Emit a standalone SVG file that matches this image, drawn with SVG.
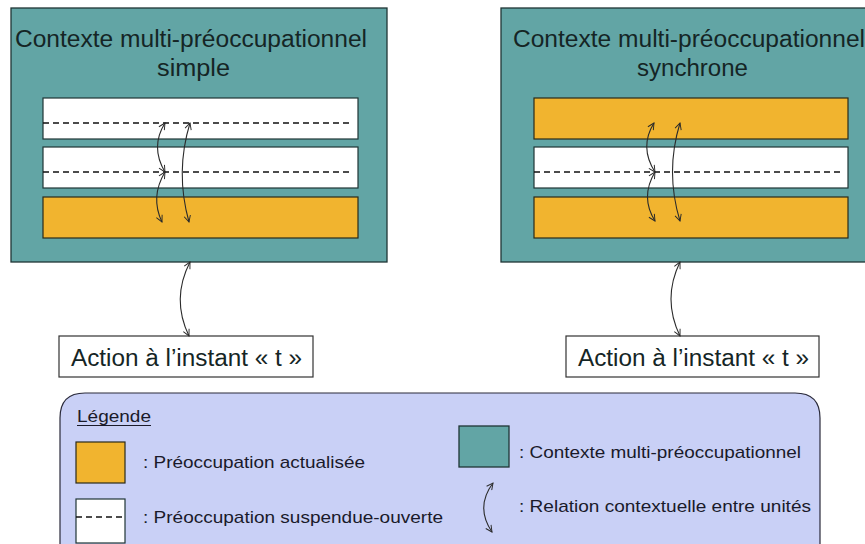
<svg xmlns="http://www.w3.org/2000/svg" width="865" height="544" viewBox="0 0 865 544">
<defs>
<marker id="ah" viewBox="0 0 10 10" refX="9" refY="5" markerWidth="8" markerHeight="8" markerUnits="userSpaceOnUse" orient="auto-start-reverse">
<path d="M1,1 L9,5 L1,9" fill="none" stroke="#2b2b2b" stroke-width="1.2"/>
</marker>
<style>
.ctx{fill:#62a5a5;stroke:#1f3535;stroke-width:1.3}
.act{fill:#f1b42f;stroke:#2a2a1a;stroke-width:1.2}
.sus{fill:#ffffff;stroke:#1f3535;stroke-width:1.2}
.dash{stroke:#111111;stroke-width:1.4;stroke-dasharray:6 4;fill:none}
.rel{fill:none;stroke:#2b2b2b;stroke-width:1.1;marker-start:url(#ah);marker-end:url(#ah)}
.title{font-family:"Liberation Sans",Arial,sans-serif;font-size:23px;fill:#152525}
.lg{font-family:"Liberation Sans",Arial,sans-serif;font-size:17px;fill:#1a1a2a}
.box{fill:#ffffff;stroke:#333333;stroke-width:1.2}
</style>
</defs>
<rect width="865" height="544" fill="#ffffff"/>

<g id="ctx-simple">
<rect class="ctx" x="11" y="8" width="376" height="254"/>
<text class="title" x="15" y="47" textLength="352" lengthAdjust="spacingAndGlyphs">Contexte multi-préoccupationnel</text>
<text class="title" x="157" y="76" textLength="73" lengthAdjust="spacingAndGlyphs">simple</text>
</g>
<g id="simple-u1"><rect class="sus" x="43" y="98" width="315" height="41"/><line class="dash" x1="43" y1="123" x2="353" y2="123"/></g>
<g id="simple-u2"><rect class="sus" x="43" y="147" width="315" height="41"/><line class="dash" x1="43" y1="172" x2="353" y2="172"/></g>
<g id="simple-u3"><rect class="act" x="43" y="197" width="315" height="41"/></g>

<g id="ctx-synchrone">
<rect class="ctx" x="501" y="8" width="370" height="254"/>
<text class="title" x="513" y="47" textLength="352" lengthAdjust="spacingAndGlyphs">Contexte multi-préoccupationnel</text>
<text class="title" x="637" y="76" textLength="111" lengthAdjust="spacingAndGlyphs">synchrone</text>
</g>
<g id="sync-u1"><rect class="act" x="534" y="98" width="314" height="41"/></g>
<g id="sync-u2"><rect class="sus" x="534" y="147" width="314" height="41"/><line class="dash" x1="534" y1="172" x2="843" y2="172"/></g>
<g id="sync-u3"><rect class="act" x="534" y="197" width="314" height="41"/></g>

<g id="action-left">
<rect class="box" x="59" y="336" width="254" height="41"/>
<text class="title" x="71" y="366" textLength="231" lengthAdjust="spacingAndGlyphs">Action à l’instant « t »</text>
</g>
<g id="action-right">
<rect class="box" x="566" y="336" width="253" height="41"/>
<text class="title" x="578" y="366" textLength="231" lengthAdjust="spacingAndGlyphs">Action à l’instant « t »</text>
</g>

<g id="legend">
<path d="M60,544 L60,418 Q60,393 85,393 L795,393 Q820,393 820,418 L820,544" fill="#c9d0f6" stroke="#2a2a3a" stroke-width="1.2"/>
<text class="lg" x="77" y="422" textLength="74" lengthAdjust="spacingAndGlyphs">Légende</text>
<line x1="77" y1="425.5" x2="151" y2="425.5" stroke="#1a1a2a" stroke-width="1"/>
<rect class="act" x="76" y="442" width="49" height="41"/>
<text class="lg" x="143" y="468" textLength="222" lengthAdjust="spacingAndGlyphs">: Préoccupation actualisée</text>
<rect class="sus" x="76" y="499" width="49" height="44"/>
<line class="dash" x1="76" y1="517" x2="125" y2="517" stroke-dasharray="5 3"/>
<text class="lg" x="143" y="523" textLength="300" lengthAdjust="spacingAndGlyphs">: Préoccupation suspendue-ouverte</text>
<rect class="ctx" x="459" y="426" width="50" height="41"/>
<text class="lg" x="519" y="458" textLength="282" lengthAdjust="spacingAndGlyphs">: Contexte multi-préoccupationnel</text>
<path class="rel" d="M493,483 Q475,507 492,532"/>
<text class="lg" x="519" y="512" textLength="292" lengthAdjust="spacingAndGlyphs">: Relation contextuelle entre unités</text>
</g>

<g id="connectors">
<path class="rel" d="M165,123 Q150,147 165,172"/>
<path class="rel" d="M165,172 Q150,197 162,222"/>
<path class="rel" d="M190,123 Q175,172 189,222"/>
<path class="rel" d="M654,123 Q639,147 655,172"/>
<path class="rel" d="M655,172 Q640,197 655,221"/>
<path class="rel" d="M680,123 Q665,172 680,221"/>
<path class="rel" d="M190,262 Q171,299 189,336"/>
<path class="rel" d="M680,262 Q662,299 680,336"/>
</g>
</svg>
